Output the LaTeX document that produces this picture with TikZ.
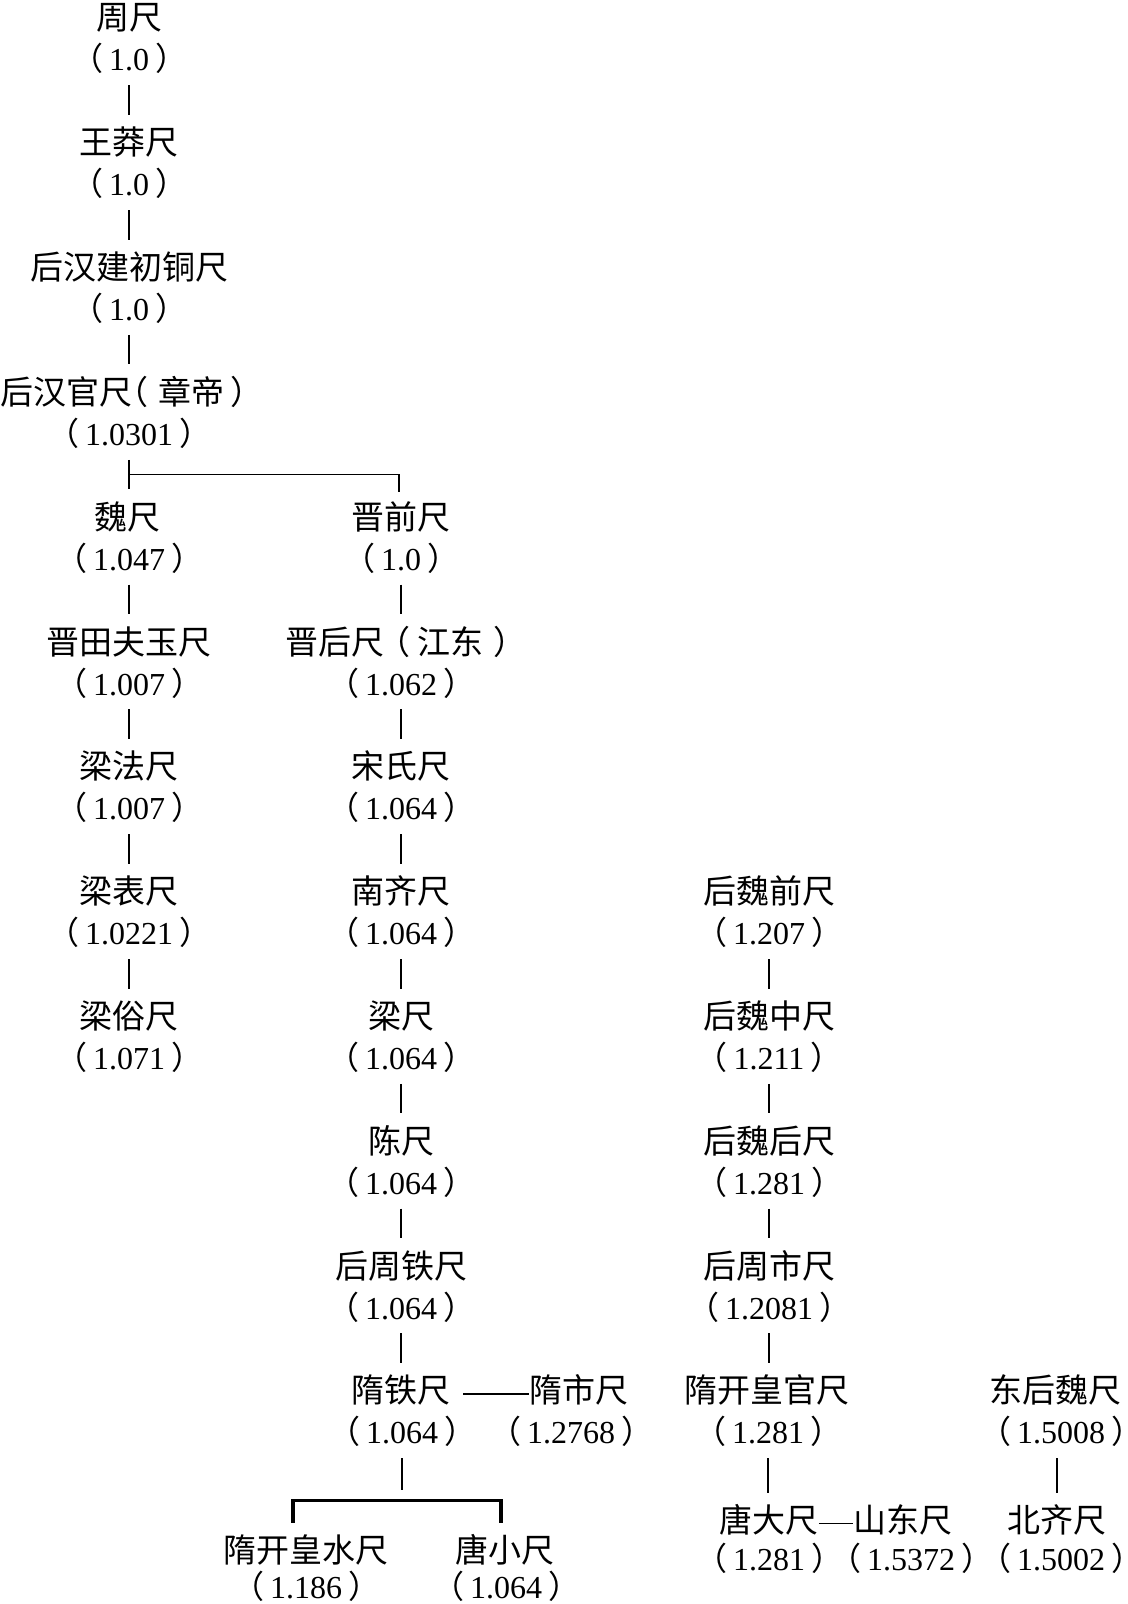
\documentclass[tikz,border=0pt]{standalone}
\usepackage{fontspec}
\setmainfont{Liberation Serif}
\newfontfamily\cjk{Noto Sans CJK SC}
\newcommand{\namefont}{\cjk\fontsize{16.5pt}{18pt}\selectfont}
\newcommand{\valfont}{\fontsize{16pt}{18pt}\selectfont}
\newcommand{\vv}[1]{\kern-0.55em{\cjk （}\kern3pt#1\kern3pt{\cjk ）}\kern-0.55em}
% id, name x, name baseline y, name, value x, value baseline y, value
\newcommand{\entry}[7]{%
  \node[nm] (#1) at (#2,#3) {#4};
  \node[vl] (#1v) at (#5,#6) {\vv{#7}};
}
\newcommand{\link}[2]{\draw[conn] (#1v.south) -- (#1v.south |- #2.north);}
\tikzset{
  nm/.style={inner sep=0pt, anchor=base, text height=12pt, text depth=3pt, font=\namefont},
  vl/.style={inner sep=0pt, anchor=base, text height=12pt, text depth=3pt, font=\valfont},
  conn/.style={draw, line width=0.75pt, shorten <=4pt, shorten >=7.75pt},
  brk/.style={draw, line width=0.9pt},
  thk/.style={draw, line width=1.6pt},
  dashline/.style={draw, line width=0.9pt}
}
\begin{document}
\begin{tikzpicture}[x=0.5pt,y=-0.5pt]
\fill[white] (0,0) rectangle (1128,1604);
\useasboundingbox (0,0) rectangle (1128,1604);
% column 1
\entry{a0}{129}{30}{周尺}{129}{71}{1.0}
\entry{a1}{129}{154.8}{王莽尺}{129}{195.8}{1.0}
\entry{a2}{129}{279.6}{后汉建初铜尺}{129}{320.6}{1.0}
\entry{a3}{132}{404.4}{后汉官尺\hspace{-0.5em}（\hspace{0.3em}章帝\hspace{0.2em}）}{129}{445.4}{1.0301}
\entry{a4}{127}{529.2}{魏尺}{129}{570.2}{1.047}
\entry{a5}{129}{654}{晋田夫玉尺}{129}{695}{1.007}
\entry{a6}{129}{778.8}{梁法尺}{129}{819.8}{1.007}
\entry{a7}{129}{903.6}{梁表尺}{129}{944.6}{1.0221}
\entry{a8}{129}{1028.4}{梁俗尺}{129}{1069.4}{1.071}
% column 2
\entry{b4}{401}{529.2}{晋前尺}{401}{570.2}{1.0}
\entry{b5}{406}{654}{晋后尺\hspace{-0.2em}（\hspace{0.2em}江东\hspace{0.3em}）}{401}{695}{1.062}
\entry{b6}{401}{778.8}{宋氏尺}{401}{819.8}{1.064}
\entry{b7}{401}{903.6}{南齐尺}{401}{944.6}{1.064}
\entry{b8}{401}{1028.4}{梁尺}{401}{1069.4}{1.064}
\entry{b9}{401}{1153.2}{陈尺}{401}{1194.2}{1.064}
\entry{b10}{401}{1278}{后周铁尺}{401}{1319}{1.064}
\entry{b11}{401}{1402.8}{隋铁尺}{402}{1443.8}{1.064}
\entry{s11}{579}{1402.8}{隋市尺}{571}{1443.8}{1.2768}
\entry{sw}{306}{1562.5}{隋开皇水尺}{306}{1598}{1.186}
\entry{tx}{505}{1562.5}{唐小尺}{506}{1598}{1.064}
% column 3
\entry{c7}{769}{903.6}{后魏前尺}{769}{944.6}{1.207}
\entry{c8}{769}{1028.4}{后魏中尺}{769}{1069.4}{1.211}
\entry{c9}{769}{1153.2}{后魏后尺}{769}{1194.2}{1.281}
\entry{c10}{769}{1278}{后周市尺}{769}{1319}{1.2081}
\entry{c11}{767}{1402.8}{隋开皇官尺}{768}{1443.8}{1.281}
\entry{td}{769}{1532.5}{唐大尺}{769}{1570}{1.281}
\entry{sd}{903}{1532.5}{山东尺}{911}{1570}{1.5372}
% column 4
\entry{d11}{1055}{1402.8}{东后魏尺}{1061}{1443.8}{1.5008}
\entry{bq}{1057}{1532.5}{北齐尺}{1061}{1570}{1.5002}
% connectors column 1
\link{a0}{a1}
\link{a1}{a2}
\link{a2}{a3}
\link{a3}{a4}
\link{a4}{a5}
\link{a5}{a6}
\link{a6}{a7}
\link{a7}{a8}
% branch to 晋前尺
\path (a3v.south) ++(0,22.6) coordinate (jb);
\draw[brk, shorten >=6.5pt] (jb) -| ([xshift=-1pt]b4.north);
% column 2
\link{b4}{b5}
\link{b5}{b6}
\link{b6}{b7}
\link{b7}{b8}
\link{b8}{b9}
\link{b9}{b10}
\link{b10}{b11}
\draw[dashline, shorten <=6.25pt] (b11.east) -- (s11.west);
% split under 隋铁尺
\path (b11v.south) ++(0,50) coordinate (sb);
\draw[conn, shorten >=0pt] (b11v.south) -- ([yshift=5pt]b11v.south |- sb);
\draw[thk, shorten <=7.75pt, shorten >=7.75pt] ([xshift=-6.5pt]sw.north) |- (sb) -| ([xshift=-2pt]tx.north);
% column 3
\link{c7}{c8}
\link{c8}{c9}
\link{c9}{c10}
\link{c10}{c11}
\link{c11}{td}
\draw[dashline] (td.east) -- (sd.west);
% column 4
\draw[conn] (bq.north |- d11v.south) -- (bq.north);
\end{tikzpicture}
\end{document}
